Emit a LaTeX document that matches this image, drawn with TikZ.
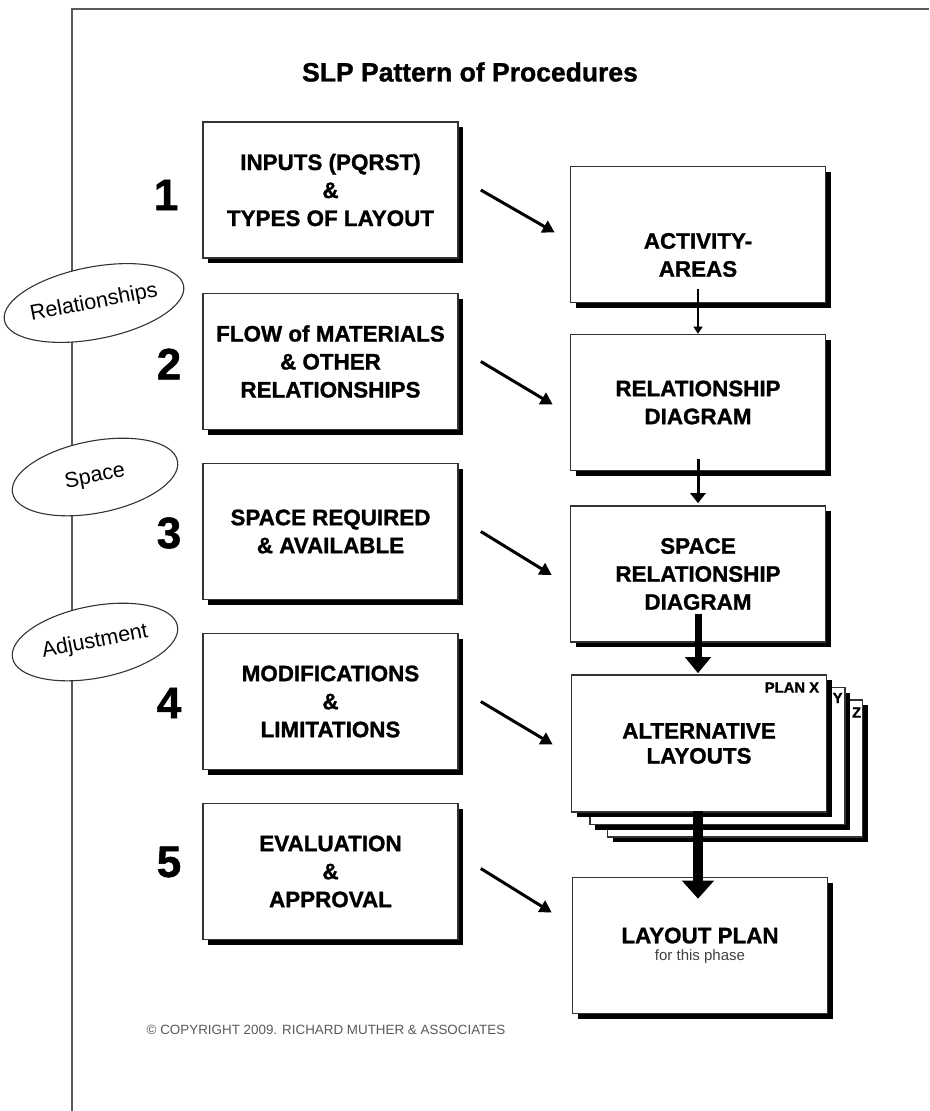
\documentclass[tikz,border=0pt]{standalone}
\usepackage{fontspec}
\setmainfont{Liberation Sans}
\newfontface\heavy{Liberation Sans Bold}[FakeBold=1.2]
\usetikzlibrary{arrows.meta,shapes.geometric,shadows}
\begin{document}
\begin{tikzpicture}[x=1pt,y=-1pt,
  card/.style={draw=black!80, line width=1.6pt, fill=white,
    minimum width=255pt, minimum height=136pt, inner sep=0pt, align=center,
    font=\fontsize{22.4}{28}\heavy,
    drop shadow={shadow xshift=5pt,shadow yshift=-5pt,fill=black,opacity=1}},
  sheet/.style={card, minimum width=255pt, minimum height=137pt},
  boxtext/.style={align=center, inner sep=0pt, font=\fontsize{22.4}{28}\heavy},
  num/.style={font=\fontsize{44}{44}\heavy, inner sep=0pt},
  ell/.style={ellipse, draw=black!80, line width=1.1pt, fill=white,
    minimum width=168pt, minimum height=72pt, inner sep=0pt,
    font=\fontsize{21.5}{22}\selectfont},
  diag/.style={line width=3pt, -{Triangle[length=12pt,width=13pt]}},
  tag/.style={font=\fontsize{14.8}{15}\heavy, inner sep=0pt, anchor=north east}
]
\useasboundingbox (0,0) rectangle (929,1111);

% page frame
\draw[line width=2pt, black!65] (72,1111) -- (72,9) -- (929,9);

% title
\node[font=\fontsize{26.5}{30}\heavy] (title) at (470,72) {SLP Pattern of Procedures};

% left column: steps
\node[card] (L1) at (330.5,190) {INPUTS (PQRST)\\\&\\TYPES OF LAYOUT};
\node[card] (L2) at (330.5,361.5) {FLOW of MATERIALS\\\& OTHER\\RELATIONSHIPS};
\node[card] (L3) at (330.5,531.5) {SPACE REQUIRED\\\& AVAILABLE};
\node[card] (L4) at (330.5,701.5) {MODIFICATIONS\\\&\\LIMITATIONS};
\node[card] (L5) at (330.5,871.5) {EVALUATION\\\&\\APPROVAL};

% step numbers
\node[num] (n1) at (166,195) {1};
\node[num] (n2) at (169,364) {2};
\node[num] (n3) at (169,533) {3};
\node[num] (n4) at (169,703) {4};
\node[num] (n5) at (169,862) {5};

% phase ellipses
\node[ell, rotate=11] (e1) at (94,303) {Relationships};
\node[ell, rotate=11] (e2) at (95,477) {Space};
\node[ell, rotate=11] (e3) at (95,642) {Adjustment};

% right column: results
\node[card] (A) at (698,234.5) {};
\node[boxtext] (At) at (698,255) {ACTIVITY-\\AREAS};
\node[card] (B) at (698,402.5) {RELATIONSHIP\\DIAGRAM};
\node[card] (C) at (698,574) {SPACE\\RELATIONSHIP\\DIAGRAM};

% stacked alternative plans
\node[sheet] (Z) at (735,768.5) {};
\node[sheet] (Y) at (717.5,756) {};
\node[sheet] (D) at (699,743.5) {ALTERNATIVE\\[-3pt]LAYOUTS};
\node[tag] (px) at ([xshift=-8pt,yshift=-8pt]D.north east) {PLAN X};
\node[tag] (py) at ([xshift=-3pt,yshift=-6pt]Y.north east) {Y};
\node[tag] (pz) at ([xshift=-2pt,yshift=-8pt]Z.north east) {Z};

\node[card] (E) at (700,945.5) {LAYOUT PLAN\\[-11pt]{\normalfont\fontsize{15}{16}\selectfont\color{black!75}for this phase}};

% inputs feeding the results
\draw[diag] ([xshift=22pt]L1.east) -- ([xshift=-15pt,yshift=2pt]A.west);
\draw[diag] ([xshift=22pt]L2.east) -- ([xshift=-17pt,yshift=-2pt]B.west);
\draw[diag] ([xshift=22pt]L3.east) -- ([xshift=-18pt,yshift=-1pt]C.west);
\draw[diag] ([xshift=22pt]L4.east) -- ([xshift=-18pt,yshift=-1pt]D.west);
\draw[diag] ([xshift=22pt,yshift=3pt]L5.east) -- ([xshift=-20pt,yshift=33pt]E.west);

% progression down the right column
\draw[line width=1.5pt, -{Triangle[length=7pt,width=9pt]}] ([yshift=14pt]A.south) -- (B.north);
\draw[line width=3pt, -{Triangle[length=10pt,width=15pt]}] ([yshift=12pt]B.south) -- ([yshift=2pt]C.north);
\draw[line width=7pt, -{Triangle[length=16pt,width=25pt]}] ([yshift=29pt]C.south) -- ([xshift=-1pt,yshift=1pt]D.north);
\draw[line width=10pt, -{Triangle[length=18pt,width=31pt]}] ([xshift=-1pt,yshift=2pt]D.south) -- ([xshift=-2pt,yshift=-22pt]E.north);

% footer
\node[font=\fontsize{13.4}{15}\selectfont, text=black!65] (copy) at (326,1030) {\textcopyright{} COPYRIGHT 2009. RICHARD MUTHER \& ASSOCIATES};
\end{tikzpicture}
\end{document}
